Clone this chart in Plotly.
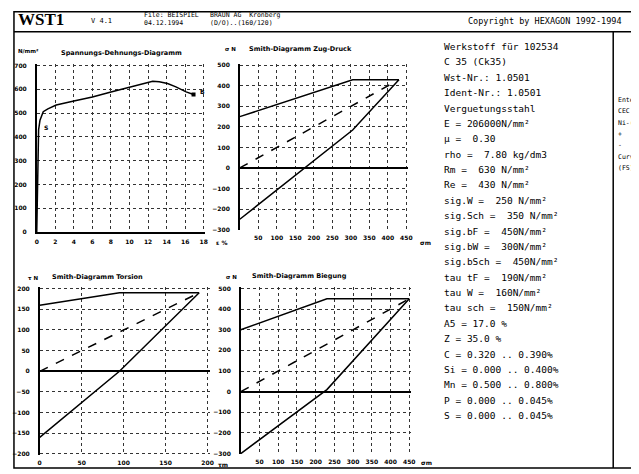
import plotly.graph_objects as go

# ---------------- data ----------------
# Spannungs-Dehnungs-Diagramm
strain = [0, 0.2, 0.35, 0.7, 1.2, 2.1, 4.0, 6.0, 8.0, 10.1, 12.1, 12.5, 13.2, 14.1, 15.0, 16.1, 16.9]
stress = [0, 430, 470, 506, 518, 534, 551, 568, 589, 610, 628, 634, 632, 624, 610, 589, 578]
ss_xticks = [0, 2, 4, 6, 8, 10, 12, 14, 16, 18]
ss_yticks = [0, 100, 200, 300, 400, 500, 600, 700]

# Smith-Diagramm Zug-Druck
zd_m = [0, 305, 430]
zd_upper = [250, 430, 430]
zd_lower = [-250, 185, 430]
zd_mid_m = [0, 430]
zd_mid = [0, 430]
zd_xticks = [50, 100, 150, 200, 250, 300, 350, 400, 450]
zd_yticks = [-300, -200, -100, 0, 100, 200, 300, 400, 500]

# Smith-Diagramm Torsion
to_m = [0, 95, 190]
to_upper = [160, 190, 190]
to_lower = [-160, 0, 190]
to_mid_m = [0, 190]
to_mid = [0, 190]
to_xticks = [0, 50, 100, 150, 200]
to_yticks = [-200, -150, -100, -50, 0, 50, 100, 150, 200]

# Smith-Diagramm Biegung
bi_m = [0, 230, 450]
bi_upper = [300, 450, 450]
bi_lower = [-300, 10, 450]
bi_mid_m = [0, 450]
bi_mid = [0, 450]
bi_xticks = [50, 100, 150, 200, 250, 300, 350, 400, 450]
bi_yticks = [-300, -200, -100, 0, 100, 200, 300, 400, 500]

info_lines = [
    "Werkstoff für 102534",
    "C 35 (Ck35)",
    "Wst-Nr.: 1.0501",
    "Ident-Nr.: 1.0501",
    "Verguetungsstahl",
    "E = 206000N/mm²",
    "μ =  0.30",
    "rho =  7.80 kg/dm3",
    "Rm =  630 N/mm²",
    "Re =  430 N/mm²",
    "sig.W =  250 N/mm²",
    "sig.Sch =  350 N/mm²",
    "sig.bF =  450N/mm²",
    "sig.bW =  300N/mm²",
    "sig.bSch =  450N/mm²",
    "tau tF =  190N/mm²",
    "tau W =  160N/mm²",
    "tau sch =  150N/mm²",
    "A5 = 17.0 %",
    "Z = 35.0 %",
    "C = 0.320 .. 0.390%",
    "Si = 0.000 .. 0.400%",
    "Mn = 0.500 .. 0.800%",
    "P = 0.000 .. 0.045%",
    "S = 0.000 .. 0.045%",
]
side_lines = ["Ente", "CEC", "Ni-(", "+", "-", "Curv", "(FS)"]

# ---------------- layout helpers ----------------
# page body keeps its default 8px margin, so the figure is placed 8px in
# from the window's top-left corner; coordinates below are window pixels.
OFF = 8
W, H = 631, 466
def px(x):
    return (x - OFF) / W
def py(y):
    return 1 - (y - OFF) / H

TICKFONT = dict(family="DejaVu Sans", size=6, color="black", weight="bold")

def xax(d0, d1, rng, ticks, anchor, line=False):
    return dict(domain=[px(d0), px(d1)], range=rng, tickvals=ticks, anchor=anchor,
                showgrid=True, gridcolor="#333", griddash="dot", gridwidth=1,
                showline=line, linecolor="black", linewidth=1.5, ticks="",
                tickfont=TICKFONT, zeroline=False, ticklabelstandoff=3)

def yax(top, bottom, rng, ticks, anchor, zero=False):
    return dict(domain=[py(bottom), py(top)], range=rng, tickvals=ticks, anchor=anchor,
                showgrid=True, gridcolor="#333", griddash="dot", gridwidth=1,
                showline=True, linecolor="black", linewidth=1.5, ticks="",
                tickfont=TICKFONT, zeroline=zero, zerolinecolor="black",
                zerolinewidth=1.6, ticklabelstandoff=7)

fig = go.Figure()
LINE = dict(color="black", width=1.5)
DASH = dict(color="black", width=1.5, dash="dash")

# chart 1
fig.add_trace(go.Scatter(x=strain, y=stress, mode="lines", line=LINE, xaxis="x", yaxis="y"))
fig.add_trace(go.Scatter(x=[strain[-1]], y=[stress[-1]], mode="markers",
                         marker=dict(symbol="square", size=4, color="black"), xaxis="x", yaxis="y"))
# chart 2
for xs, ys, st in [(zd_m, zd_upper, LINE), (zd_m, zd_lower, LINE), (zd_mid_m, zd_mid, DASH)]:
    fig.add_trace(go.Scatter(x=xs, y=ys, mode="lines", line=st, xaxis="x2", yaxis="y2"))
# chart 3
for xs, ys, st in [(to_m, to_upper, LINE), (to_m, to_lower, LINE), (to_mid_m, to_mid, DASH)]:
    fig.add_trace(go.Scatter(x=xs, y=ys, mode="lines", line=st, xaxis="x3", yaxis="y3"))
# chart 4
for xs, ys, st in [(bi_m, bi_upper, LINE), (bi_m, bi_lower, LINE), (bi_mid_m, bi_mid, DASH)]:
    fig.add_trace(go.Scatter(x=xs, y=ys, mode="lines", line=st, xaxis="x4", yaxis="y4"))

ann = []
def txt(x, y, s, size=7, family="DejaVu Sans", anchor="left", weight="normal", ref=("paper", "paper")):
    ann.append(dict(x=x, y=y, xref=ref[0], yref=ref[1], text=s, showarrow=False,
                    xanchor=anchor, yanchor="middle",
                    font=dict(family=family, size=size, color="black", weight=weight)))

# header
txt(px(14), py(17), "WST1", size=17, family="Liberation Serif", weight="bold")
txt(px(88), py(18), "V 4.1", size=7, family="DejaVu Sans Mono")
txt(px(141), py(12), "File: BEISPIEL", size=6.5, family="DejaVu Sans Mono")
txt(px(141), py(20), "04.12.1994", size=6.5, family="DejaVu Sans Mono")
txt(px(208), py(12), "BRAUN AG  Kronberg", size=6.5, family="DejaVu Sans Mono")
txt(px(208), py(20), "(D/O)..(160/120)", size=6.5, family="DejaVu Sans Mono")
txt(px(468), py(18), "Copyright by HEXAGON 1992-1994", size=8.5, family="DejaVu Sans Mono")

# info column
for i, s in enumerate(info_lines):
    txt(px(444), py(44 + i * 15.58), s.replace(" ", "\u00a0"), size=9.5, family="DejaVu Sans Mono")
for i, s in enumerate(side_lines):
    txt(px(620), py(98 + i * 11.5), s, size=6.5, family="DejaVu Sans Mono")

# chart titles & units
TB = dict(size=6.5, weight="bold")
txt(px(121), py(51), "Spannungs-Dehnungs-Diagramm", anchor="center", **TB)
txt(px(27), py(49), "N/mm²", size=5.5, anchor="center", weight="bold")
txt(px(222), py(243), "ε %", size=6, anchor="center", weight="bold")

txt(px(301), py(47), "Smith-Diagramm Zug-Druck", anchor="center", **TB)
txt(px(231), py(46), "σ N", size=5.5, anchor="center", weight="bold")
txt(px(427), py(243), "σm", size=6, anchor="center", weight="bold")

txt(px(96), py(277), "Smith-Diagramm Torsion", anchor="center", **TB)
txt(px(31), py(278), "τ N", size=5.5, anchor="center", weight="bold")
txt(px(223), py(467), "τm", size=6, anchor="center", weight="bold")

txt(px(300), py(276), "Smith-Diagramm Biegung", anchor="center", **TB)
txt(px(232), py(277), "σ N", size=5.5, anchor="center", weight="bold")
txt(px(429), py(465), "σm", size=6, anchor="center", weight="bold")

# point labels in chart 1
txt(1.0, 440, "S", size=6, anchor="center", weight="bold", ref=("x", "y"))
txt(17.9, 590, "B", size=6, anchor="center", weight="bold", ref=("x", "y"))

shapes = [
    dict(type="rect", xref="paper", yref="paper", x0=px(12), x1=px(660), y0=py(471), y1=py(8.8),
         line=dict(color="black", width=1.5)),
    dict(type="line", xref="paper", yref="paper", x0=px(12), x1=px(660), y0=py(29), y1=py(29),
         line=dict(color="black", width=1.5)),
    dict(type="line", xref="paper", yref="paper", x0=px(617), x1=px(617), y0=py(29), y1=py(471),
         line=dict(color="black", width=1.5)),
]

fig.update_layout(
    width=W, height=H, margin=dict(l=0, r=0, t=0, b=0),
    paper_bgcolor="white", plot_bgcolor="white", showlegend=False,
    xaxis=xax(35, 205, [0, 18.15], ss_xticks, "y", line=True),
    yaxis=yax(62, 232, [0, 705], ss_yticks, "x"),
    xaxis2=xax(240, 410, [0, 455], zd_xticks, "y2"),
    yaxis2=yax(62, 230, [-303, 505], zd_yticks, "x2", zero=True),
    xaxis3=xax(38, 210, [0, 203], to_xticks, "y3"),
    yaxis3=yax(288, 458, [-203, 203], to_yticks, "x3", zero=True),
    xaxis4=xax(241, 413, [0, 455], bi_xticks, "y4"),
    yaxis4=yax(288, 457, [-303, 505], bi_yticks, "x4", zero=True),
    annotations=ann, shapes=shapes,
)

fig.write_html("out.html")
